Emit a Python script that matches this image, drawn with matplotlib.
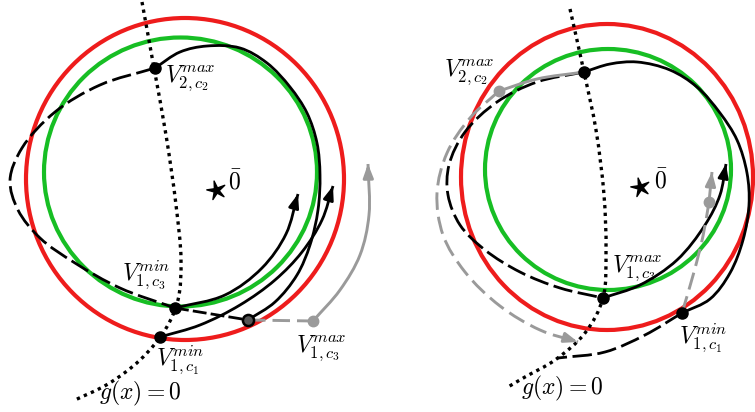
import numpy as np
import matplotlib
matplotlib.use('Agg')
import matplotlib.pyplot as plt
from matplotlib.path import Path
from matplotlib.patches import PathPatch, Ellipse

plt.rcParams['mathtext.fontset'] = 'cm'

RED = '#EE1C1C'
GREEN = '#17BE24'
GRAY = '#9A9A9A'
BLACK = '#000000'

# ---------------- left panel (pixel coordinates) ----------------
red_circle_L = (185, 179, 318, 322)      # cx, cy, width, height
green_circle_L = (180.5, 172, 273, 269)
star_L = (216, 190)

g_curve_L = [(142, 2), (154, 68), (166, 135), (176, 205), (181, 260), (178, 300),
             (165, 330), (140, 360), (108, 384), (75, 400)]
solid_big_L = [(155, 68), (180, 52), (207, 46), (240, 48), (267, 63), (290, 87),
               (307, 113), (317, 143), (320, 175), (318, 210), (310, 245),
               (297, 275), (275, 302), (248, 320)]
dashed_L = [(155, 68), (100, 85), (55, 112), (22, 148), (10, 180), (18, 210),
            (40, 238), (75, 263), (120, 288), (175, 308)]
dashed_seg_L = [(175, 308), (248, 320)]
arrow1_L = [(175, 308), (225, 295), (262, 268), (286, 234), (298, 194)]
arrow2_L = [(160, 337), (200, 325), (240, 305), (275, 280), (302, 252), (322, 220), (333, 186)]
gray_dash_L = [(248, 320), (313, 321)]
gray_arrow_L = [(313, 321), (340, 290), (360, 255), (369, 215), (368, 164)]
black_pts_L = [(155, 68), (175, 308), (160, 337)]
ring_pt_L = (248, 320)
gray_pt_L = (313, 321)

labels_L = [(165, 78, r'$V^{max}_{2,c_2}$'),
            (122, 275, r'$V^{min}_{1,c_3}$'),
            (156, 360, r'$V^{min}_{1,c_1}$'),
            (296, 348, r'$V^{max}_{1,c_3}$'),
            (99, 393, r'$g(x)=0$'),
            (228, 182, r'$\bar{0}$')]

# ---------------- right panel ----------------
red_circle_R = (607, 177, 292, 306)
green_circle_R = (608, 169.5, 246, 241)
star_R = (640, 187)

g_curve_R = [(570, 9), (584, 72), (596, 130), (604, 195), (606, 250), (603, 298),
             (585, 333), (555, 360), (525, 377), (508, 387)]
solid_big_R = [(584, 72), (610, 64), (637, 62), (670, 70), (697, 87), (720, 113),
               (737, 140), (747, 173), (749, 205), (743, 240), (730, 273),
               (710, 299), (682, 313)]
dashed_R = [(584, 72), (537, 82), (497, 102), (465, 132), (449, 165), (448, 195),
            (460, 225), (485, 250), (520, 272), (560, 288), (603, 298)]
arrow_R = [(603, 298), (640, 285), (677, 260), (705, 225), (720, 195), (726, 164)]
dashed_low_R = [(682, 313), (645, 335), (605, 352), (558, 358)]
gray_solid_R = [(499, 91), (537, 79), (584, 72)]
gray_dash_arrow_R = [(499, 91), (470, 118), (447, 153), (437, 193), (443, 235),
                     (465, 272), (500, 306), (540, 330), (578, 342)]
gray_dash_up_R = [(682, 313), (694, 272), (703, 236), (709, 202)]
gray_arrow_up_R = [(709, 202), (712, 172)]
black_pts_R = [(584, 72), (603, 298), (682, 313)]
gray_pts_R = [(499, 91), (709, 202)]

labels_R = [(444, 72, r'$V^{max}_{2,c_2}$'),
            (612, 268, r'$V^{max}_{1,c_3}$'),
            (679, 338, r'$V^{min}_{1,c_1}$'),
            (521, 388, r'$g(x)=0$'),
            (654, 181, r'$\bar{0}$')]


def smooth_path(pts, alpha=0.5):
    """Centripetal Catmull-Rom through the given points, as cubic Bezier path."""
    p = np.asarray(pts, dtype=float)
    if len(p) == 2:
        return Path(p, [Path.MOVETO, Path.LINETO])
    ext = np.vstack([2 * p[0] - p[1], p, 2 * p[-1] - p[-2]])
    verts = [p[0]]
    codes = [Path.MOVETO]
    for i in range(1, len(ext) - 2):
        p0, p1, p2, p3 = ext[i - 1], ext[i], ext[i + 1], ext[i + 2]
        d0 = max(np.hypot(*(p1 - p0)) ** alpha, 1e-6)
        d1 = max(np.hypot(*(p2 - p1)) ** alpha, 1e-6)
        d2 = max(np.hypot(*(p3 - p2)) ** alpha, 1e-6)
        m1 = (p1 - p0) / d0 - (p2 - p0) / (d0 + d1) + (p2 - p1) / d1
        m2 = (p2 - p1) / d1 - (p3 - p1) / (d1 + d2) + (p3 - p2) / d2
        c1 = p1 + m1 * d1 / 3.0
        c2 = p2 - m2 * d1 / 3.0
        verts += [c1, c2, p2]
        codes += [Path.CURVE4] * 3
    return Path(np.array(verts), codes)


def draw_curve(ax, pts, color, lw, ls='-', z=3, arrow=False, cap='butt'):
    path = smooth_path(pts)
    patch = PathPatch(path, facecolor='none', edgecolor=color, lw=lw,
                      linestyle=ls, zorder=z, capstyle=cap, joinstyle='round')
    ax.add_patch(patch)
    if arrow:
        v = path.vertices
        end = v[-1]
        d = v[-1] - v[-2]
        d = d / np.hypot(*d)
        start = end - d * 6
        ax.annotate('', xy=end, xytext=start,
                    arrowprops=dict(arrowstyle='-|>,head_length=0.8,head_width=0.3',
                                    color=color, lw=lw, shrinkA=0, shrinkB=0,
                                    mutation_scale=10),
                    zorder=z + 0.5)


def star_marker():
    ang = np.pi / 2 + 0.25 + np.arange(10) * np.pi / 5
    r = np.where(np.arange(10) % 2 == 0, 1.0, 0.28)
    verts = np.column_stack([r * np.cos(ang), r * np.sin(ang)])
    verts = np.vstack([verts, verts[0]])
    return Path(verts, closed=True)


fig = plt.figure(figsize=(7.55, 4.12), dpi=100)
ax = fig.add_axes([0, 0, 1, 1])
ax.set_xlim(0, 755)
ax.set_ylim(412, 0)
ax.axis('off')

dash_k = (0, (7.0, 2.0))
dash_g = (0, (6.0, 2.4))
dot = (0, (1, 1.3))
LWK = 2.0
LWG = 2.1

for (cx, cy, w, h), col in [(red_circle_L, RED), (green_circle_L, GREEN),
                            (red_circle_R, RED), (green_circle_R, GREEN)]:
    ax.add_patch(Ellipse((cx, cy), w, h, facecolor='none', edgecolor=col, lw=3.0, zorder=1))

# left panel
draw_curve(ax, g_curve_L, BLACK, 2.4, dot, z=2)
draw_curve(ax, solid_big_L, BLACK, LWK, z=3)
draw_curve(ax, dashed_L, BLACK, LWK, dash_k, z=3)
draw_curve(ax, dashed_seg_L, BLACK, LWK, (0, (5.0, 1.5)), z=3)
draw_curve(ax, arrow1_L, BLACK, LWK, z=3, arrow=True)
draw_curve(ax, arrow2_L, BLACK, LWK, z=3, arrow=True)
draw_curve(ax, gray_dash_L, GRAY, LWG, dash_g, z=3)
draw_curve(ax, gray_arrow_L, GRAY, LWG, z=3, arrow=True)
for x, y in black_pts_L:
    ax.plot(x, y, 'o', color=BLACK, ms=8, zorder=5)
ax.plot(*ring_pt_L, 'o', mfc='#555555', mec=BLACK, mew=1.8, ms=8, zorder=5)
ax.plot(*gray_pt_L, 'o', color=GRAY, ms=7.5, zorder=5)
ax.plot(*star_L, marker=star_marker(), color=BLACK, ms=14, zorder=5, ls='none')
for x, y, s in labels_L:
    ax.text(x, y, s, fontsize=17, ha='left', va='center', zorder=6)

# right panel
draw_curve(ax, g_curve_R, BLACK, 2.4, dot, z=2)
draw_curve(ax, solid_big_R, BLACK, LWK, z=3)
draw_curve(ax, dashed_R, BLACK, LWK, dash_k, z=3)
draw_curve(ax, arrow_R, BLACK, LWK, z=3, arrow=True)
draw_curve(ax, dashed_low_R, BLACK, LWK, dash_k, z=3)
draw_curve(ax, gray_solid_R, GRAY, LWG, z=3)
draw_curve(ax, gray_dash_arrow_R, GRAY, LWG, dash_g, z=3, arrow=True)
draw_curve(ax, gray_dash_up_R, GRAY, LWG, dash_g, z=3)
draw_curve(ax, gray_arrow_up_R, GRAY, LWG, z=3, arrow=True)
for x, y in black_pts_R:
    ax.plot(x, y, 'o', color=BLACK, ms=8, zorder=5)
for x, y in gray_pts_R:
    ax.plot(x, y, 'o', color=GRAY, ms=7.5, zorder=5)
ax.plot(*star_R, marker=star_marker(), color=BLACK, ms=14, zorder=5, ls='none')
for x, y, s in labels_R:
    ax.text(x, y, s, fontsize=17, ha='left', va='center', zorder=6)

fig.savefig('out.png', dpi=100)
